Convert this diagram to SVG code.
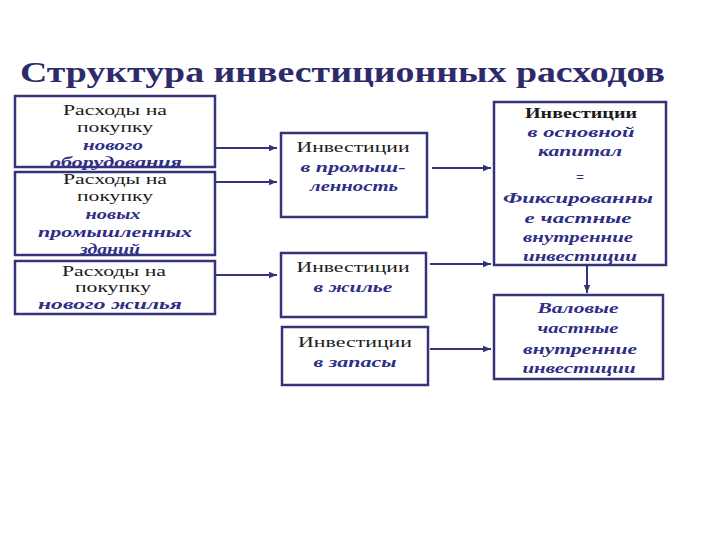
<svg xmlns="http://www.w3.org/2000/svg" width="720" height="540" viewBox="0 0 720 540">
<defs>
<marker id="ah" viewBox="0 0 10 10" refX="10" refY="5" markerWidth="4" markerHeight="4" orient="auto" markerUnits="strokeWidth">
<path d="M0,1 L10,5 L0,9 Z" fill="#34347A"/>
</marker>
<style>
.box{fill:#ffffff;stroke:#34347A;stroke-width:2.5}
.con{fill:none;stroke:#34347A;stroke-width:2}
.r{font-family:"Liberation Serif","Times New Roman",serif;font-size:15px;fill:#1b1b1b;text-anchor:middle}
.b{font-family:"Liberation Serif","Times New Roman",serif;font-size:15px;font-weight:bold;fill:#1b1b1b;text-anchor:middle}
.i{font-family:"Liberation Serif","Times New Roman",serif;font-size:14px;font-weight:bold;font-style:italic;fill:#2E2E86;text-anchor:middle}
.t{font-family:"Liberation Serif","Times New Roman",serif;font-size:30px;font-weight:bold;fill:#2D2B6B}
</style>
</defs>
<rect width="720" height="540" fill="#ffffff"/>
<text class="t" x="20" y="82" textLength="645" lengthAdjust="spacingAndGlyphs">Структура инвестиционных расходов</text>

<g id="left1">
<rect class="box" x="15" y="96" width="200" height="71"/>
<text class="r" x="115" y="115" textLength="104" lengthAdjust="spacingAndGlyphs">Расходы на</text>
<text class="r" x="115" y="132" textLength="76" lengthAdjust="spacingAndGlyphs">покупку</text>
<text class="i" x="113" y="150" textLength="60" lengthAdjust="spacingAndGlyphs">нового</text>
<text class="i" x="116" y="167" textLength="132" lengthAdjust="spacingAndGlyphs">оборудования</text>
</g>
<g id="left2">
<rect class="box" x="15" y="172" width="200" height="83" fill="none" style="fill:none"/>
<text class="r" x="115" y="184" textLength="104" lengthAdjust="spacingAndGlyphs">Расходы на</text>
<text class="r" x="115" y="201" textLength="76" lengthAdjust="spacingAndGlyphs">покупку</text>
<text class="i" x="113" y="219" textLength="55" lengthAdjust="spacingAndGlyphs">новых</text>
<text class="i" x="115" y="237" textLength="154" lengthAdjust="spacingAndGlyphs">промышленных</text>
<text class="i" x="110" y="254" textLength="60" lengthAdjust="spacingAndGlyphs">зданий</text>
</g>
<g id="left3">
<rect class="box" x="15" y="261" width="200" height="53"/>
<text class="r" x="114" y="276" textLength="104" lengthAdjust="spacingAndGlyphs">Расходы на</text>
<text class="r" x="113" y="292" textLength="76" lengthAdjust="spacingAndGlyphs">покупку</text>
<text class="i" x="110" y="309" textLength="144" lengthAdjust="spacingAndGlyphs">нового  жилья</text>
</g>

<g id="mid1">
<rect class="box" x="281" y="133" width="146" height="84"/>
<text class="r" x="353" y="152" textLength="113" lengthAdjust="spacingAndGlyphs">Инвестиции</text>
<text class="i" x="353" y="172" textLength="105" lengthAdjust="spacingAndGlyphs">в промыш-</text>
<text class="i" x="354" y="191" textLength="88" lengthAdjust="spacingAndGlyphs">ленность</text>
</g>
<g id="mid2">
<rect class="box" x="281" y="253" width="145" height="64"/>
<text class="r" x="353" y="272" textLength="113" lengthAdjust="spacingAndGlyphs">Инвестиции</text>
<text class="i" x="353" y="292" textLength="79" lengthAdjust="spacingAndGlyphs">в жилье</text>
</g>
<g id="mid3">
<rect class="box" x="282" y="327" width="146" height="58"/>
<text class="r" x="355" y="347" textLength="114" lengthAdjust="spacingAndGlyphs">Инвестиции</text>
<text class="i" x="355" y="367" textLength="83" lengthAdjust="spacingAndGlyphs">в запасы</text>
</g>

<g id="right1">
<rect class="box" x="494" y="102" width="172" height="163"/>
<text class="b" x="581" y="118" textLength="112" lengthAdjust="spacingAndGlyphs">Инвестиции</text>
<text class="i" x="581" y="137" textLength="107" lengthAdjust="spacingAndGlyphs">в основной</text>
<text class="i" x="580" y="156" textLength="84" lengthAdjust="spacingAndGlyphs">капитал</text>
<text class="i" x="580" y="182">=</text>
<text class="i" x="578" y="203" textLength="150" lengthAdjust="spacingAndGlyphs">Фиксированны</text>
<text class="i" x="578" y="223" textLength="107" lengthAdjust="spacingAndGlyphs">е частные</text>
<text class="i" x="578" y="242" textLength="110" lengthAdjust="spacingAndGlyphs">внутренние</text>
<text class="i" x="580" y="261" textLength="114" lengthAdjust="spacingAndGlyphs">инвестиции</text>
</g>
<g id="right2">
<rect class="box" x="494" y="295" width="169" height="84"/>
<text class="i" x="578" y="313" textLength="81" lengthAdjust="spacingAndGlyphs">Валовые</text>
<text class="i" x="578" y="333" textLength="81" lengthAdjust="spacingAndGlyphs">частные</text>
<text class="i" x="580" y="354" textLength="114" lengthAdjust="spacingAndGlyphs">внутренние</text>
<text class="i" x="579" y="373" textLength="113" lengthAdjust="spacingAndGlyphs">инвестиции</text>
</g>

<g id="connectors">
<line class="con" x1="216" y1="148" x2="277" y2="148" marker-end="url(#ah)"/>
<line class="con" x1="216" y1="182" x2="277" y2="182" marker-end="url(#ah)"/>
<line class="con" x1="216" y1="275" x2="277" y2="275" marker-end="url(#ah)"/>
<line class="con" x1="432" y1="168" x2="491" y2="168" marker-end="url(#ah)"/>
<line class="con" x1="430" y1="264" x2="491" y2="264" marker-end="url(#ah)"/>
<line class="con" x1="430" y1="349" x2="491" y2="349" marker-end="url(#ah)"/>
<line class="con" x1="587" y1="266" x2="587" y2="293" marker-end="url(#ah)"/>
</g>
</svg>
